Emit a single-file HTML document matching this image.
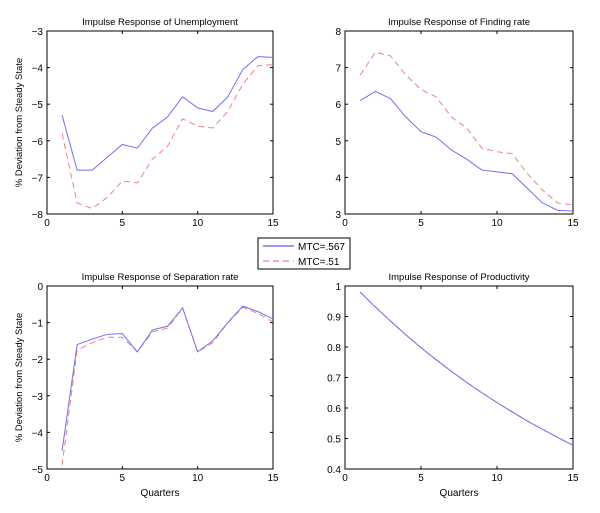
<!DOCTYPE html>
<html><head><meta charset="utf-8"><style>
body{margin:0;background:#fff;}
svg{display:block;font-family:"Liberation Sans",sans-serif;}
</style></head><body>
<svg id="c" width="600" height="513" viewBox="0 0 600 513"></svg>
<script>
const quarters=[1,2,3,4,5,6,7,8,9,10,11,12,13,14,15];
const unempA=[-5.3,-6.8,-6.8,-6.45,-6.1,-6.2,-5.65,-5.35,-4.8,-5.1,-5.2,-4.8,-4.05,-3.7,-3.72];
const unempB=[-5.8,-7.7,-7.85,-7.55,-7.1,-7.15,-6.5,-6.15,-5.4,-5.6,-5.65,-5.2,-4.45,-3.95,-3.92];
const findA=[6.1,6.35,6.15,5.65,5.25,5.1,4.75,4.5,4.2,4.15,4.1,3.7,3.3,3.1,3.08];
const findB=[6.8,7.42,7.32,6.8,6.4,6.2,5.65,5.35,4.8,4.7,4.65,4.1,3.65,3.3,3.25];
const sepA=[-4.5,-1.6,-1.45,-1.32,-1.3,-1.8,-1.2,-1.1,-0.6,-1.8,-1.5,-1.0,-0.55,-0.7,-0.9];
const sepB=[-4.9,-1.75,-1.55,-1.4,-1.4,-1.8,-1.25,-1.15,-0.6,-1.8,-1.55,-1.0,-0.58,-0.75,-0.98];
const prodA=[0.98,0.931,0.885,0.840,0.798,0.758,0.720,0.684,0.650,0.618,0.587,0.557,0.530,0.503,0.478];
const prodB=[0.98,0.931,0.885,0.840,0.798,0.758,0.720,0.684,0.650,0.618,0.587,0.557,0.530,0.503,0.478];
const xTicks=[0,5,10,15];
const unempTicks=[-8,-7,-6,-5,-4,-3];
const findTicks=[3,4,5,6,7,8];
const sepTicks=[-5,-4,-3,-2,-1,0];
const prodTicks=[0.4,0.5,0.6,0.7,0.8,0.9,1];
const NS="http://www.w3.org/2000/svg";
const svg=document.getElementById('c');
function mk(tag,attrs,parent){const e=document.createElementNS(NS,tag);for(const k in attrs)e.setAttribute(k,attrs[k]);(parent||svg).appendChild(e);return e;}
function panel(id,x0,x1,yTop,yBot,ymin,ymax,yt,title,A,B,ylab,xlab){
  const g=mk('g',{});
  
  
  const sx=v=>x0+(v-0)/15*(x1-x0);
  const sy=v=>yBot-(v-ymin)/(ymax-ymin)*(yBot-yTop);
  const r=mk('rect',{x:x0,y:yTop,width:x1-x0,height:yBot-yTop,fill:'none',stroke:'#000','stroke-width':1},g);
  
  
  xTicks.forEach(t=>{const X=sx(t);
    mk('line',{x1:X,x2:X,y1:yBot,y2:yBot-3,stroke:'#000'},g);
    mk('line',{x1:X,x2:X,y1:yTop,y2:yTop+3,stroke:'#000'},g);
    const tx=mk('text',{x:X,y:yBot+12,'font-size':10,'text-anchor':'middle'},g);tx.textContent=t;
    
    });
  yt.forEach(t=>{const Y=sy(t);
    mk('line',{x1:x0,x2:x0+3,y1:Y,y2:Y,stroke:'#000'},g);
    mk('line',{x1:x1,x2:x1-3,y1:Y,y2:Y,stroke:'#000'},g);
    const tx=mk('text',{x:x0-4,y:Y+4,'font-size':10,'text-anchor':'end'},g);tx.textContent=String(t).replace('-','\u2212');
    
    });
  const ti=mk('text',{x:(x0+x1)/2,y:yTop-6,'font-size':9.5,'text-anchor':'middle'},g);ti.textContent=title;
  
  
  if(ylab){const yl=mk('text',{x:0,y:0,'font-size':9.5,'text-anchor':'middle',transform:`translate(22,${(yTop+yBot)/2}) rotate(-90)`},g);yl.textContent=ylab;
    
    }
  if(xlab){const xl=mk('text',{x:(x0+x1)/2,y:yBot+27,'font-size':10,'text-anchor':'middle'},g);xl.textContent=xlab;
    
    }
  const pa=quarters.map((q,i)=>sx(q)+','+sy(A[i])).join(' ');
  const pb=quarters.map((q,i)=>sx(q)+','+sy(B[i])).join(' ');
  const lb=mk('polyline',{points:pb,fill:'none',stroke:'#f08080','stroke-width':1,'stroke-dasharray':'6,4'},g);
  
  
  const la=mk('polyline',{points:pa,fill:'none',stroke:'#7070f0','stroke-width':1},g);
  
  
}
panel('unemployment',47,273,31,214,-8,-3,unempTicks,'Impulse Response of Unemployment',unempA,unempB,'% Deviation from Steady State',null);
panel('finding-rate',345,573,31,214,3,8,findTicks,'Impulse Response of Finding rate',findA,findB,null,null);
panel('separation-rate',47,273,286,469,-5,0,sepTicks,'Impulse Response of Separation rate',sepA,sepB,'% Deviation from Steady State','Quarters');
panel('productivity',345,573,286,469,0.4,1,prodTicks,'Impulse Response of Productivity',prodA,prodB,null,'Quarters');
const lg=mk('g',{});


mk('rect',{x:258,y:238,width:92,height:31,fill:'#fff',stroke:'#000'},lg);
mk('line',{x1:263,x2:294,y1:246,y2:246,stroke:'#3030f0'},lg);
mk('line',{x1:263,x2:294,y1:261,y2:261,stroke:'#f06060','stroke-dasharray':'6,4'},lg);
const t1=mk('text',{x:298,y:250,'font-size':10},lg);t1.textContent='MTC=.567';


const t2=mk('text',{x:298,y:265,'font-size':10},lg);t2.textContent='MTC=.51';


</script>
</body></html>
